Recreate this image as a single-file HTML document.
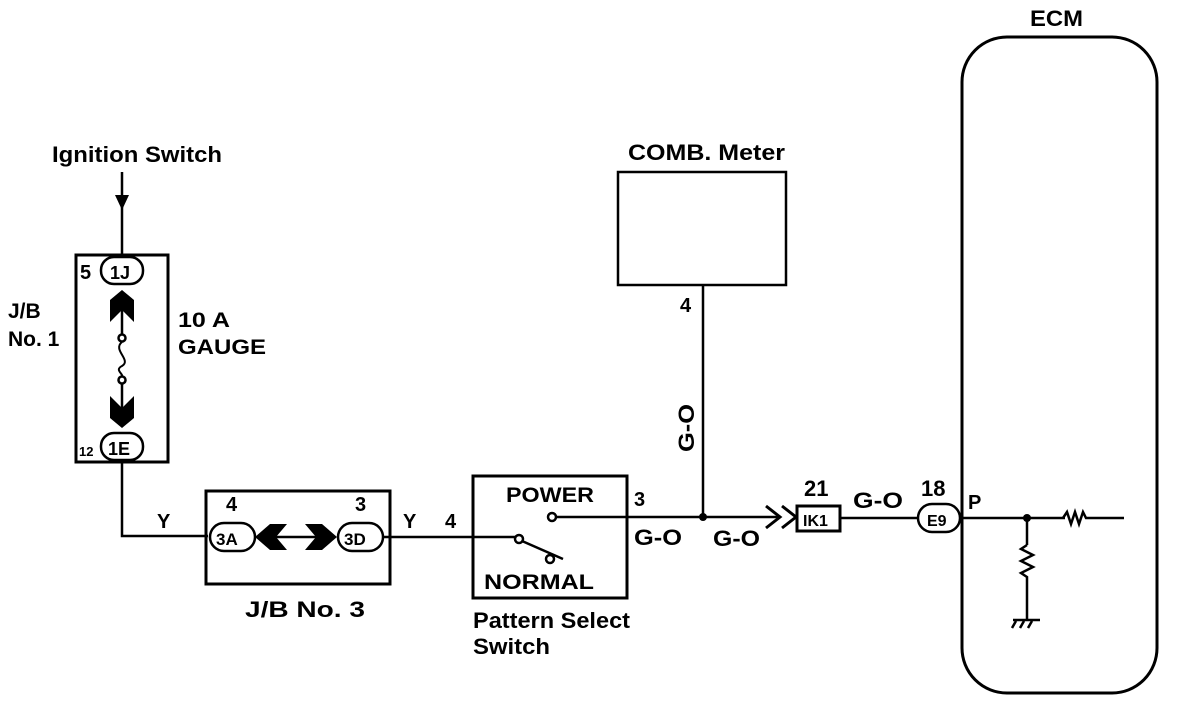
<!DOCTYPE html>
<html><head><style>
html,body{margin:0;padding:0;background:#fff;}
svg{display:block;}
text{font-family:"Liberation Sans",sans-serif;font-weight:bold;fill:#000;}
</style></head><body>
<svg width="1184" height="702" viewBox="0 0 1184 702" xmlns="http://www.w3.org/2000/svg">
<g stroke="#000" stroke-width="2.5" fill="none">
<line x1="122" y1="172" x2="122" y2="256"/>
<rect x="76" y="255" width="92" height="207" stroke-width="3"/>
<rect x="101" y="257" width="42" height="27" rx="13" fill="#fff"/>
<rect x="101" y="433" width="42" height="27" rx="13" fill="#fff"/>
<line x1="122" y1="300" x2="122" y2="335"/>
<line x1="122" y1="383" x2="122" y2="415"/>
<circle cx="122" cy="338" r="3.5" fill="#fff"/>
<circle cx="122" cy="380" r="3.5" fill="#fff"/>
<path d="M122 342 C112 350,132 360,122 366 C114 370,124 374,122 377" stroke-width="2"/>
<polyline points="122,462 122,536 208,536"/>
<rect x="206" y="491" width="184" height="93" stroke-width="3"/>
<rect x="210" y="523" width="45" height="28" rx="14" fill="#fff"/>
<rect x="338" y="523" width="45" height="28" rx="14" fill="#fff"/>
<line x1="270" y1="537" x2="330" y2="537"/>
<line x1="383" y1="537" x2="518" y2="537"/>
<rect x="473" y="476" width="154" height="122" stroke-width="3"/>
<circle cx="519" cy="539" r="4" fill="#fff"/>
<line x1="522" y1="541" x2="563" y2="559"/>
<circle cx="550" cy="559" r="4" fill="#fff"/>
<circle cx="552" cy="517" r="4" fill="#fff"/>
<line x1="556" y1="517" x2="780" y2="517"/>
<polyline points="766,506 780,517 766,528" stroke-width="3"/>
<polyline points="782,506 796,517 782,528" stroke-width="3"/>
<rect x="618" y="172" width="168" height="113"/>
<line x1="703" y1="285" x2="703" y2="517"/>
<rect x="797" y="506" width="43" height="25" stroke-width="3"/>
<line x1="840" y1="518" x2="920" y2="518"/>
<rect x="918" y="504" width="42" height="28" rx="14" fill="#fff"/>
<rect x="962" y="37" width="195" height="656" rx="45" stroke-width="3"/>
<line x1="960" y1="518" x2="1065" y2="518"/>
<polyline points="1063,518 1067,512 1071,524 1075,512 1079,524 1083,512 1086,518 1124,518"/>
<line x1="1027" y1="518" x2="1027" y2="545"/>
<polyline points="1027,545 1021,549 1033,555 1021,561 1033,567 1021,573 1027,577 1027,620"/>
<line x1="1013" y1="620" x2="1040" y2="620"/>
<line x1="1016" y1="621" x2="1012" y2="628"/>
<line x1="1024" y1="621" x2="1020" y2="628"/>
<line x1="1032" y1="621" x2="1028" y2="628"/>
</g>
<g fill="#000">
<polygon points="115,195 129,195 122,210"/>
<polygon points="122,290 134,300 134,322 122,310 110,322 110,300"/>
<polygon points="122,428 134,418 134,396 122,408 110,396 110,418"/>
<polygon points="255,537 270,524 287,524 276,537 287,550 270,550"/>
<polygon points="337,537 322,524 305,524 316,537 305,550 322,550"/>
<circle cx="703" cy="517" r="4"/>
<circle cx="1027" cy="518" r="4"/>
</g>
<g font-size="22" font-weight="normal" lengthAdjust="spacingAndGlyphs">
<text x="52" y="162" textLength="170" lengthAdjust="spacingAndGlyphs">Ignition Switch</text>
<text x="628" y="160" textLength="157" lengthAdjust="spacingAndGlyphs">COMB. Meter</text>
<text x="245" y="617" textLength="120" lengthAdjust="spacingAndGlyphs">J/B No. 3</text>
<text x="473" y="628" textLength="157" lengthAdjust="spacingAndGlyphs">Pattern Select</text>
<text x="473" y="654" textLength="77" lengthAdjust="spacingAndGlyphs">Switch</text>
<text x="634" y="545" textLength="48" lengthAdjust="spacingAndGlyphs">G-O</text>
<text x="713" y="546" textLength="47" lengthAdjust="spacingAndGlyphs">G-O</text>
<text x="853" y="508" textLength="50" lengthAdjust="spacingAndGlyphs">G-O</text>
<text transform="translate(694,452) rotate(-90)" textLength="48" lengthAdjust="spacingAndGlyphs">G-O</text>
<text x="804" y="496">21</text>
<text x="921" y="496">18</text>
</g>
<text x="8" y="318" font-size="21">J/B</text>
<text x="8" y="346" font-size="21">No. 1</text>
<text x="178" y="327" font-size="21" textLength="52" lengthAdjust="spacingAndGlyphs">10 A</text>
<text x="178" y="354" font-size="21" textLength="88" lengthAdjust="spacingAndGlyphs">GAUGE</text>
<text x="80" y="279" font-size="20">5</text>
<text x="110" y="279" font-size="18">1J</text>
<text x="79" y="456" font-size="13">12</text>
<text x="108" y="455" font-size="18">1E</text>
<text x="157" y="528" font-size="20">Y</text>
<text x="226" y="511" font-size="20">4</text>
<text x="355" y="511" font-size="20">3</text>
<text x="216" y="545" font-size="17">3A</text>
<text x="344" y="545" font-size="17">3D</text>
<text x="403" y="528" font-size="20">Y</text>
<text x="445" y="528" font-size="20">4</text>
<text x="506" y="502" font-size="21" textLength="88" lengthAdjust="spacingAndGlyphs">POWER</text>
<text x="484" y="589" font-size="21" textLength="110" lengthAdjust="spacingAndGlyphs">NORMAL</text>
<text x="634" y="506" font-size="20">3</text>
<text x="680" y="312" font-size="20">4</text>
<text x="803" y="526" font-size="16" font-weight="normal">IK1</text>
<text x="927" y="526" font-size="16" font-weight="normal">E9</text>
<text x="968" y="509" font-size="20">P</text>
<text x="1030" y="26" font-size="22" textLength="53" lengthAdjust="spacingAndGlyphs">ECM</text>
</svg>
</body></html>
